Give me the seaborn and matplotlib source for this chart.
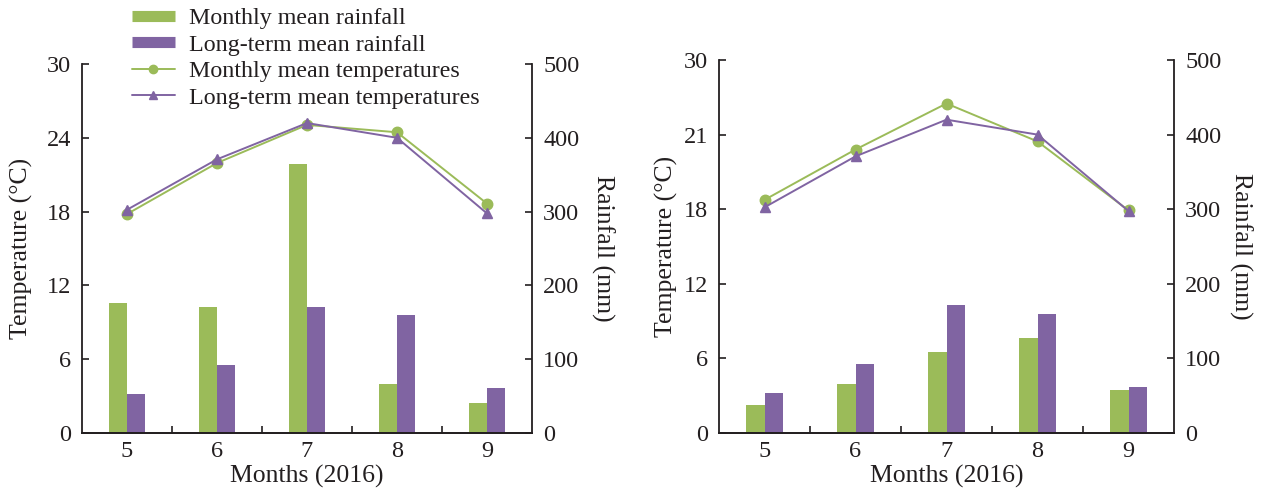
import numpy as np
import pandas as pd
import seaborn as sns
import matplotlib.pyplot as plt
from matplotlib.lines import Line2D
from matplotlib.ticker import FixedLocator

# data
months = ["5", "6", "7", "8", "9"]
rain_monthly_a = [176, 171, 364, 67, 41]
rain_monthly_b = [37, 66, 109, 128, 58]
rain_longterm = [53, 92, 171, 160, 61]
temp_monthly_a = [17.8, 21.95, 25.05, 24.45, 18.65]
temp_monthly_b = [18.75, 22.8, 26.5, 23.45, 17.9]
temp_longterm = [18.15, 22.25, 25.2, 24.0, 17.85]

temp_ticks = [0, 6, 12, 18, 24, 30]
temp_labels_a = ["0", "6", "12", "18", "24", "30"]
temp_labels_b = ["0", "6", "12", "18", "21", "30"]
rain_ticks = [0, 100, 200, 300, 400, 500]

series_names = ["Monthly mean rainfall", "Long-term mean rainfall",
                "Monthly mean temperatures", "Long-term mean temperatures"]

GREEN = "#9bbb59"
PURPLE = "#8064a2"
INK = "#231f20"

sns.set_style("white")
plt.rcParams["font.family"] = ["Liberation Serif", "DejaVu Serif"]
plt.rcParams["text.color"] = INK
plt.rcParams["axes.labelcolor"] = INK
plt.rcParams["xtick.color"] = INK
plt.rcParams["ytick.color"] = INK

fig = plt.figure(figsize=(12.65, 4.91), dpi=100)


def draw_panel(rect, rain_m, temp_m, temp_labels, left_pad, right_pad):
    ax = fig.add_axes(rect)
    ax2 = ax.twinx()

    rain_df = pd.DataFrame({
        "month": months * 2,
        "rain": list(rain_m) + list(rain_longterm),
        "series": [series_names[0]] * 5 + [series_names[1]] * 5,
    })
    sns.barplot(data=rain_df, x="month", y="rain", hue="series",
                palette=[GREEN, PURPLE], width=0.4, saturation=1,
                linewidth=0, legend=False, ax=ax2)

    temp_df = pd.DataFrame({
        "month": months * 2,
        "temp": list(temp_m) + list(temp_longterm),
        "series": [series_names[2]] * 5 + [series_names[3]] * 5,
    })
    sns.pointplot(data=temp_df, x="month", y="temp", hue="series",
                  palette=[GREEN, PURPLE], markers=["o", "^"], linestyles="-",
                  errorbar=None, markersize=7.5, linewidth=1.4,
                  legend=False, ax=ax)

    ax.set_zorder(ax2.get_zorder() + 1)
    ax.patch.set_visible(False)

    ax.set_xlim(-0.5, 4.5)
    ax.set_ylim(0, 30)
    ax2.set_ylim(0, 500)
    ax.set_yticks(temp_ticks)
    ax.set_yticklabels(temp_labels)
    ax2.set_yticks(rain_ticks)

    ax.set_xlabel("Months (2016)", fontsize=18.5, labelpad=2)
    ax.set_ylabel("Temperature (°C)", fontsize=18.5, labelpad=left_pad)
    ax2.set_xlabel("")
    ax2.set_ylabel("Rainfall (mm)", fontsize=18.5, rotation=270,
                   labelpad=right_pad)

    for a in (ax, ax2):
        for side in ("left", "right", "bottom"):
            a.spines[side].set_visible(True)
            a.spines[side].set_color(INK)
            a.spines[side].set_linewidth(1.3)
        a.spines["top"].set_visible(False)
    ax.spines["right"].set_visible(False)
    ax2.spines["left"].set_visible(False)

    ax.tick_params(axis="y", direction="in", length=5, width=1.2,
                   labelsize=17.5, pad=8, left=True)
    ax2.tick_params(axis="y", direction="in", length=5, width=1.2,
                    labelsize=17.5, pad=8, right=True)
    ax.tick_params(axis="x", which="major", length=0, labelsize=17.5, pad=6)
    ax.xaxis.set_minor_locator(FixedLocator(np.arange(len(months) - 1) + 0.5))
    ax.tick_params(axis="x", which="minor", direction="in", length=5,
                   width=1.2, bottom=True)
    ax2.tick_params(axis="x", length=0)
    return ax


ax_a = draw_panel([82 / 1265, 58 / 491, 450 / 1265, 369 / 491],
                  rain_monthly_a, temp_monthly_a, temp_labels_a, 10, 25)
ax_b = draw_panel([719 / 1265, 58 / 491, 455 / 1265, 373 / 491],
                  rain_monthly_b, temp_monthly_b, temp_labels_b, 4, 22)

handles = [
    Line2D([], [], color=GREEN, lw=8, solid_capstyle="butt"),
    Line2D([], [], color=PURPLE, lw=8, solid_capstyle="butt"),
    Line2D([], [], color=GREEN, lw=1.4, marker="o", markersize=6),
    Line2D([], [], color=PURPLE, lw=1.4, marker="^", markersize=6),
]
fig.legend(handles, series_names, loc="upper left",
           bbox_to_anchor=(122 / 1265, 1.005), frameon=False, fontsize=17.3,
           handlelength=1.8, handletextpad=0.6, labelspacing=0.2,
           borderaxespad=0)

fig.savefig("out.png", dpi=100)
